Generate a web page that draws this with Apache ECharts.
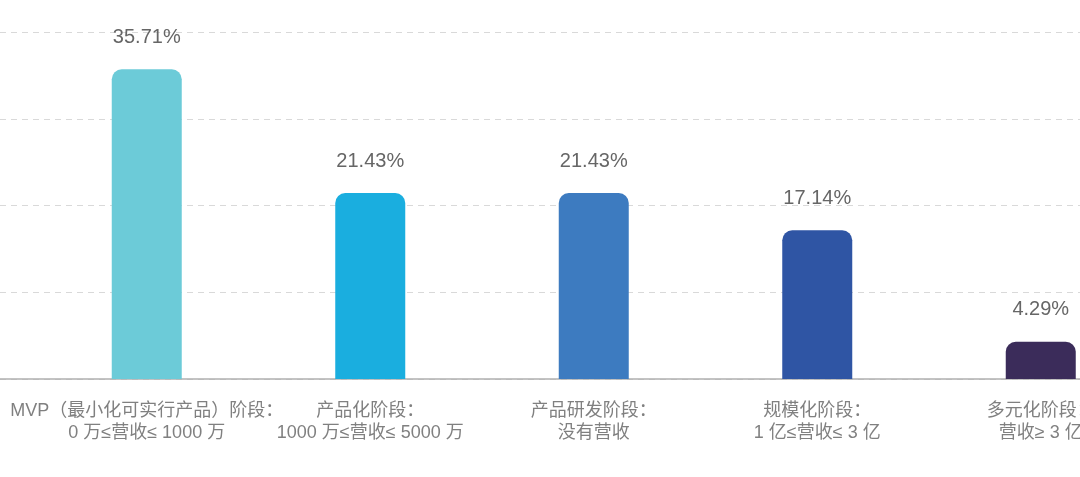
<!DOCTYPE html>
<html>
<head>
<meta charset="utf-8">
<script src="https://cdn.jsdelivr.net/npm/echarts@6/dist/echarts.min.js"></script>
<style>html,body{margin:0;padding:0;background:#fff;overflow:hidden;width:1080px;height:477px;}#c{width:1160px;height:477px;}</style>
</head>
<body>
<div id="c"></div>
<script>
const categories = [
  "MVP（最小化可实行产品）阶段：\n0 万≤营收≤ 1000 万",
  "产品化阶段：\n1000 万≤营收≤ 5000 万",
  "产品研发阶段：\n没有营收",
  "规模化阶段：\n1 亿≤营收≤ 3 亿",
  "多元化阶段：\n营收≥ 3 亿"
];
const values = [35.71, 21.43, 21.43, 17.14, 4.29];
const barColors = ["#6ccbd8", "#1aaedf", "#3d7bc0", "#2f55a4", "#3b2c5a"];

const chart = echarts.init(document.getElementById('c'));
chart.setOption({
  backgroundColor: '#fff',
  animation: false,
  grid: [
    {left: 0, right: 80, top: 32, bottom: 98},
    {left: 35, right: 7.5, top: 32, bottom: 98}
  ],
  xAxis: [
    {type: 'category', gridIndex: 0, data: [''], axisTick: {show: false}, axisLabel: {show: false},
     axisLine: {show: true, lineStyle: {color: '#b0b0b0', width: 1.5}}},
    {type: 'category', gridIndex: 1, data: categories, axisTick: {show: false},
     axisLine: {show: false},
     axisLabel: {interval: 0, margin: 21, color: '#808080', fontSize: 18, lineHeight: 22,
       fontFamily: '"Liberation Sans", "Noto Sans CJK SC", sans-serif'}}
  ],
  yAxis: [
    {type: 'value', gridIndex: 0, min: 0, max: 40, interval: 10,
     axisLabel: {show: false}, axisLine: {show: false}, axisTick: {show: false},
     splitLine: {show: true, lineStyle: {color: '#d9d9d9', type: [6, 5], width: 1}}},
    {type: 'value', gridIndex: 1, min: 0, max: 40, interval: 10, show: false, splitLine: {show: false}}
  ],
  series: [{
    type: 'bar',
    xAxisIndex: 1, yAxisIndex: 1,
    data: values.map((v, i) => ({value: v, itemStyle: {color: barColors[i]}})),
    barWidth: 70,
    itemStyle: {borderRadius: [10, 10, 0, 0]},
    label: {show: true, position: 'top', distance: 22, color: '#666', fontSize: 20,
      fontFamily: '"Liberation Sans", Arial, sans-serif',
      formatter: p => p.value.toFixed(2) + '%'}
  }]
});
</script>
</body>
</html>
